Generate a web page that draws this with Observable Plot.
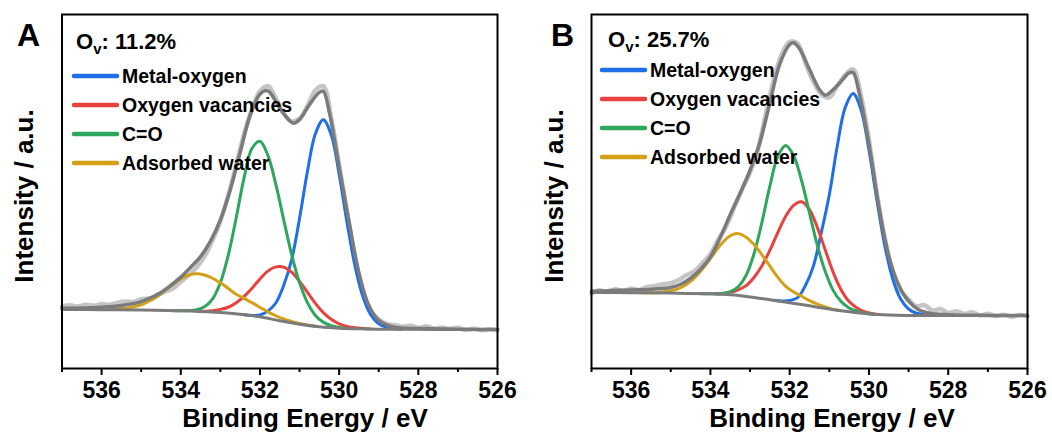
<!DOCTYPE html>
<html>
<head>
<meta charset="utf-8">
<script src="https://cdn.jsdelivr.net/npm/d3@7"></script>
<script src="https://cdn.jsdelivr.net/npm/@observablehq/plot@0.6"></script>
<style>
  html, body { margin: 0; padding: 0; background: #fff; }
  #figure { position: relative; width: 1052px; height: 436px; overflow: hidden; }
  .panel { position: absolute; top: 0; }
  svg text { font-family: "Liberation Sans", Arial, sans-serif; font-weight: bold; }
</style>
</head>
<body>
<div id="figure">
  <div class="panel" id="panelA" style="left:0px"></div>
  <div class="panel" id="panelB" style="left:530px"></div>
</div>
<script>
// ---- O 1s spectra: binding energy (eV) vs intensity (a.u.) ----

// measured spectrum, sampled every 0.2 eV
const rawEnergy = [537,536.8,536.6,536.4,536.2,536,535.8,535.6,535.4,535.2,535,534.8,534.6,534.4,534.2,534,533.8,533.6,533.4,533.2,533,532.8,532.6,532.4,532.2,532,531.8,531.6,531.4,531.2,531,530.8,530.6,530.4,530.2,530,529.8,529.6,529.4,529.2,529,528.8,528.6,528.4,528.2,528,527.8,527.6,527.4,527.2,527,526.8,526.6,526.4,526.2,526];
const rawA = [17.6,17.9,17.5,18.0,17.7,18.2,18.0,18.6,18.9,18.8,19.6,19.8,20.6,21.7,22.6,24.5,26.3,28.6,31.6,36.2,41.6,48.9,57.5,66.2,73.2,78.3,79.8,76.4,72.0,69.8,70.6,74.2,78.6,79.7,70.8,57.5,44.0,31.5,21.6,16.2,13.9,12.6,12.3,11.8,12.1,11.5,11.9,11.3,11.6,11.2,11.5,10.9,11.3,10.8,11.1,10.9];
const rawB = [21.2,22.1,21.6,22.4,21.9,22.6,22.2,23.0,23.3,23.8,24.1,25.0,26.4,27.5,29.8,32.3,36.5,40.2,45.5,50.6,55.4,61.8,72.0,81.6,88.8,92.3,91.8,86.2,81.0,77.5,76.6,79.8,82.9,84.5,77.0,64.5,49.5,36.8,27.2,22.0,19.5,17.6,17.9,16.4,16.8,15.7,16.2,15.4,15.9,15.0,15.5,14.8,15.2,14.6,15.1,14.8];

// fitted envelope
const envEnergyA = [537,536.5,536,535.5,535,534.5,534,533.75,533.5,533.25,533,532.75,532.5,532.25,532,531.85,531.75,531.5,531.25,531.15,531,530.75,530.5,530.4,530.25,530,529.75,529.5,529.25,529,528.75,528.5,528,527,526];
const envA = [17.0,17.1,17.3,17.8,18.9,21.5,25.8,28.6,31.6,36.0,42.0,50.5,61.0,71.5,77.5,78.5,78.0,73.5,70.0,69.3,70.3,74.5,78.0,78.3,72.5,57.0,41.5,27.0,17.8,13.6,12.1,11.5,11.3,11.1,11.0];
const envEnergyB = [537,536.5,536,535.5,535,534.75,534.5,534.25,534,533.75,533.5,533.25,533,532.75,532.5,532.25,532,531.9,531.75,531.5,531.25,531.1,531,530.75,530.5,530.4,530.25,530,529.75,529.5,529.25,529,528.75,528.5,528,527,526];
const envB = [21.8,22.0,22.2,22.4,22.9,23.8,25.5,28.0,31.5,37.0,43.5,49.5,56.0,64.0,75.0,86.0,91.5,92.0,90.3,84.5,78.8,77.2,77.8,80.5,83.5,83.6,78.0,63.5,45.7,31.8,23.6,19.0,16.6,15.7,15.2,15.0,15.0];

// Shirley background
const bgEnergy = [537,536,535,534,533.5,533,532.5,532,531.5,531,530.5,530,529.5,529,528,527,526];
const bgA = [16.7,16.6,16.5,16.3,16.1,15.8,15.3,14.6,13.5,12.5,11.8,11.4,11.2,11.1,11.1,11.0,11.0];
const bgB = [21.5,21.4,21.3,21.1,20.8,20.2,19.4,18.6,17.7,16.8,16.0,15.4,15.1,15.0,15.0,15.0,15.0];

// fitted components (drawn on top of the background)
const metalOxygenEnergy = [532.4,532.2,532.0,531.8,531.6,531.4,531.2,531.0,530.8,530.6,530.4,530.2,530.0,529.8,529.6,529.4,529.2,529.0,528.8,528.6,528.4];
const metalOxygenA = [15.2,15.0,15.1,16.2,18.5,23.5,30.7,42.4,55.7,66.3,70.3,66.0,54.9,41.2,29.0,20.3,15.1,12.6,11.6,11.2,11.1];
const metalOxygenB = [19.3,19.1,19.2,20.0,23.5,29.0,38.5,49.1,62.8,73.7,77.7,73.1,61.7,47.6,34.7,25.3,19.6,16.8,15.6,15.2,15.0];

const vacancyEnergyA = [533.6,533.4,533.2,533.0,532.8,532.6,532.4,532.2,532.0,531.8,531.6,531.4,531.2,531.0,530.8,530.6,530.4,530.2,530.0,529.8,529.6,529.4,529.2];
const vacancyA = [16.2,16.2,16.3,16.7,17.3,18.6,20.4,22.7,25.3,27.5,28.7,28.65,27.2,24.6,21.5,18.4,15.8,13.9,12.6,11.9,11.5,11.3,11.15];
const vacancyEnergyB = [533.9,533.7,533.5,533.3,533.1,532.9,532.7,532.5,532.3,532.1,531.9,531.7,531.5,531.3,531.1,530.9,530.7,530.5,530.3,530.1,529.9,529.7];
const vacancyB = [21.15,21.2,21.5,22.2,23.4,25.7,29.0,33.4,38.4,43.0,46.1,47.1,44.9,39.8,33.4,27.1,22.2,18.9,17.1,16.0,15.5,15.22];

const carbonylEnergyA = [534.2,534.0,533.8,533.6,533.4,533.2,533.0,532.8,532.6,532.4,532.2,532.0,531.8,531.6,531.4,531.2,531.0,530.8,530.6,530.4,530.2,530.0,529.8];
const carbonylA = [16.34,16.3,16.35,16.6,17.45,19.6,24.2,32.0,42.6,53.9,62.2,64.2,60.2,52.1,42.0,32.2,24.2,18.6,15.0,13.1,12.1,11.6,11.35];
const carbonylEnergyB = [534.3,534.1,533.9,533.7,533.5,533.3,533.1,532.9,532.7,532.5,532.3,532.1,531.9,531.7,531.5,531.3,531.1,530.9,530.7,530.5,530.3,530.1,529.9];
const carbonylB = [21.16,21.12,21.1,21.2,21.7,23.1,26.3,32.4,41.3,51.5,59.9,63.0,60.1,53.1,43.9,34.7,27.3,22.0,18.9,17.1,16.2,15.65,15.34];

const waterEnergyA = [535.8,535.6,535.4,535.2,535.0,534.8,534.6,534.4,534.2,534.0,533.8,533.6,533.4,533.2,533.0,532.8,532.6,532.4,532.2,532.0,531.8,531.6,531.4,531.2,531.0,530.8,530.6];
const waterA = [16.7,16.8,17.0,17.4,18.0,19.0,20.3,22.0,23.7,25.3,26.4,26.8,26.4,25.5,24.2,22.6,21.0,19.8,18.6,17.3,16.0,14.9,14.0,13.3,12.75,12.3,11.95];
const waterEnergyB = [535.7,535.5,535.3,535.1,534.9,534.7,534.5,534.3,534.1,533.9,533.7,533.5,533.3,533.1,532.9,532.7,532.5,532.3,532.1,531.9,531.7,531.5,531.3,531.1,530.9,530.7];
const waterB = [21.37,21.4,21.5,21.75,22.2,23.1,24.6,26.8,29.5,32.6,35.5,37.5,38.1,37.1,35.0,32.1,28.9,25.8,23.2,21.6,20.4,19.2,18.2,17.4,16.7,16.35];

// legend, annotation and axis text
const componentNames = ["Metal-oxygen", "Oxygen vacancies", "C=O", "Adsorbed water"];
const componentColors = ["#1f6fe6", "#e8413e", "#2ea65b", "#d3a018"];
const vacancyShare = ["11.2%", "25.7%"];
const panelLetters = ["A", "B"];
const majorTicks = [536, 534, 532, 530, 528, 526];
const minorTicks = [537, 535, 533, 531, 529, 527];

const RAW_COLOR = "#c5c5c5";
const FIT_COLOR = "#7b7b7b";

const pairs = (E, V) => E.map((e, i) => ({e, v: V[i]}));

function drawPanel(el, p) {
  const line = (E, V, stroke, strokeWidth, curve = "catmull-rom") =>
    Plot.line(pairs(E, V), {x: "e", y: "v", stroke, strokeWidth, curve, strokeLinejoin: "round", strokeLinecap: "round"});

  const chart = Plot.plot({
    width: 520,
    height: 436,
    marginLeft: p.marginLeft,
    marginRight: 23,
    marginTop: 14,
    marginBottom: 68,
    x: {domain: [537, 526]},
    y: {domain: [0, 100], axis: null},
    style: {fontFamily: "'Liberation Sans', Arial, sans-serif", fontWeight: "bold", fontSize: "23px", color: "black", background: "white", overflow: "visible"},
    marks: [
      Plot.axisX(majorTicks, {tickSize: 7, tickPadding: 6, tickFormat: d => String(d), label: null, strokeWidth: 2}),
      Plot.axisX(minorTicks, {tickSize: 4, tickFormat: () => "", label: null, strokeWidth: 2}),
      line(rawEnergy, p.raw, RAW_COLOR, 4.5),
      line(metalOxygenEnergy, p.metalOxygen, componentColors[0], 3),
      line(p.vacancyEnergy, p.vacancy, componentColors[1], 3),
      line(p.carbonylEnergy, p.carbonyl, componentColors[2], 3),
      line(p.waterEnergy, p.water, componentColors[3], 3),
      line(p.envEnergy, p.env, FIT_COLOR, 3.5),
      line(bgEnergy, p.bg, FIT_COLOR, 3),
      Plot.frame({stroke: "black", strokeWidth: 2})
    ]
  });

  const svg = d3.select(chart);

  // panel letter
  svg.append("text").attr("x", p.letterX).attr("y", 45.5).attr("text-anchor", "start")
    .style("font-size", "32px").attr("fill", "black").text(p.letter);

  // axis titles
  svg.append("text").attr("x", p.titleX).attr("y", 426.5).attr("text-anchor", "middle")
    .style("font-size", "26px").attr("fill", "black").text("Binding Energy / eV");
  svg.append("text").attr("transform", `translate(${p.ylabelX},196) rotate(-90)`).attr("text-anchor", "middle")
    .style("font-size", "26px").attr("fill", "black").text("Intensity / a.u.");

  // O_v annotation
  const ov = svg.append("text").attr("x", p.ovX).attr("y", p.ovY).attr("text-anchor", "start")
    .style("font-size", "22px").attr("fill", "black");
  ov.append("tspan").text("O");
  ov.append("tspan").attr("dy", 5).style("font-size", "15px").text("v");
  ov.append("tspan").attr("dy", -5).text(": " + p.share);

  // component legend
  const g = svg.append("g").attr("text-anchor", "start");
  componentNames.forEach((name, i) => {
    const y = p.legendY + i * 29;
    g.append("line").attr("x1", p.legendX).attr("x2", p.legendX + 43).attr("y1", y).attr("y2", y)
      .attr("stroke", componentColors[i]).attr("stroke-width", 4.5).attr("stroke-linecap", "round");
    g.append("text").attr("x", p.legendX + 48).attr("y", y + 6.8).style("font-size", "19.5px").attr("fill", "black").text(name);
  });

  el.appendChild(chart);
}

drawPanel(document.getElementById("panelA"), {
  letter: panelLetters[0], share: vacancyShare[0], marginLeft: 61.5,
  raw: rawA, env: envA, envEnergy: envEnergyA, bg: bgA,
  metalOxygen: metalOxygenA,
  vacancy: vacancyA, vacancyEnergy: vacancyEnergyA,
  carbonyl: carbonylA, carbonylEnergy: carbonylEnergyA,
  water: waterA, waterEnergy: waterEnergyA,
  letterX: 17, titleX: 305, ylabelX: 33, ovX: 76, ovY: 48.5, legendX: 74, legendY: 76
});

drawPanel(document.getElementById("panelB"), {
  letter: panelLetters[1], share: vacancyShare[1], marginLeft: 61,
  raw: rawB, env: envB, envEnergy: envEnergyB, bg: bgB,
  metalOxygen: metalOxygenB,
  vacancy: vacancyB, vacancyEnergy: vacancyEnergyB,
  carbonyl: carbonylB, carbonylEnergy: carbonylEnergyB,
  water: waterB, waterEnergy: waterEnergyB,
  letterX: 21, titleX: 302, ylabelX: 33, ovX: 78, ovY: 46.5, legendX: 72, legendY: 70
});
</script>
</body>
</html>
